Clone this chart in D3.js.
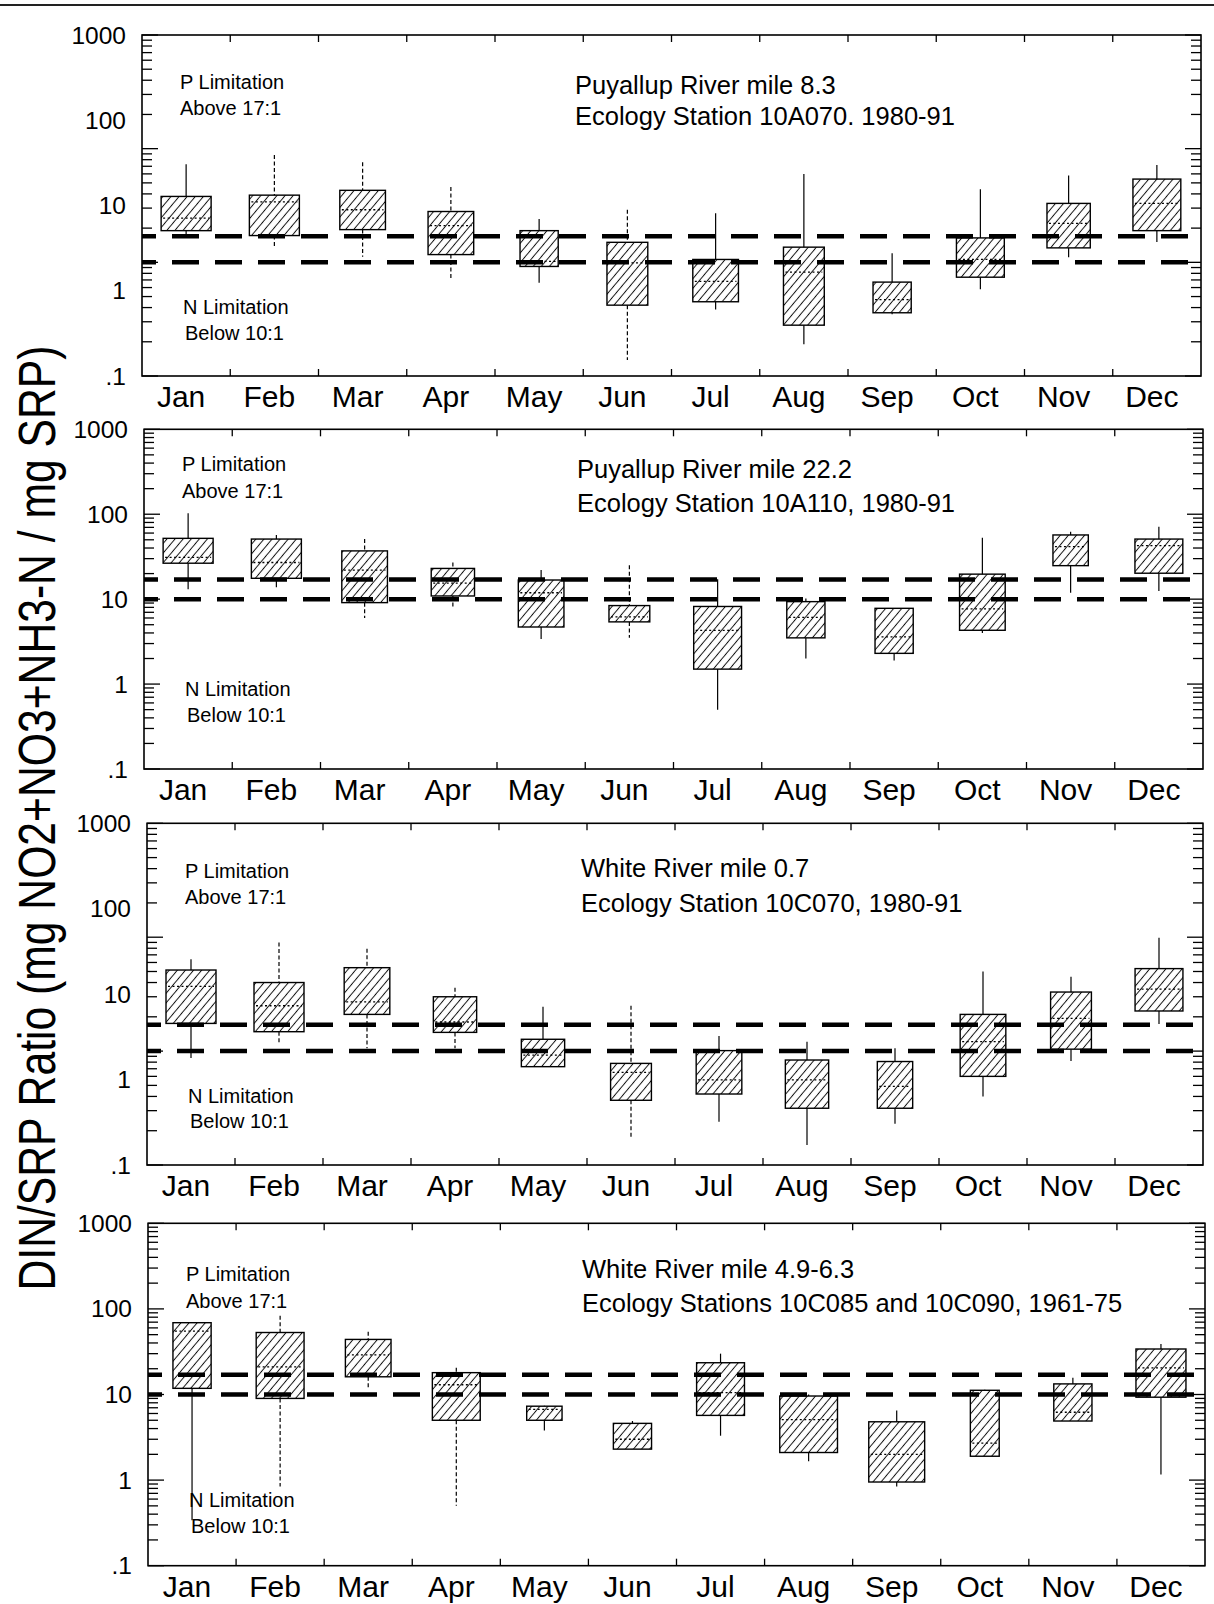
<!DOCTYPE html>
<html>
<head>
<meta charset="utf-8">
<script src="https://cdn.jsdelivr.net/npm/d3@7"></script>
<style>
  html, body { margin: 0; padding: 0; background: #fff; }
  svg { display: block; font-family: "Liberation Sans", Arial, Helvetica, sans-serif; }
</style>
</head>
<body>
<svg id="chart" width="1214" height="1604"></svg>
<script>
// ---- data -------------------------------------------------------------
const months = ["Jan", "Feb", "Mar", "Apr", "May", "Jun", "Jul", "Aug", "Sep", "Oct", "Nov", "Dec"];
const yTickLabels = ["1000", "100", "10", "1", ".1"];
const ratioP = 17;   // P limitation above 17:1
const ratioN = 10;   // N limitation below 10:1

// Puyallup River mile 8.3, station 10A070, 1980-91
const puy83Max = [73, 88, 76, 46, 24, 29, 27, 60, 12, 44, 58, 72];
const puy83Q3  = [38, 39, 43, 28, 19, 15, 10.6, 13.6, 6.7, 16.4, 33, 54];
const puy83Med = [24.5, 34, 29, 21, 10.2, 9.9, 6.8, 8.2, 4.7, 10.6, 22, 33];
const puy83Q1  = [19, 17.2, 19.4, 11.7, 9.2, 4.2, 4.5, 2.8, 3.6, 7.4, 13.4, 19];
const puy83Min = [17.5, 13.4, 11.2, 7.0, 6.6, 1.38, 3.85, 1.9, 3.5, 5.8, 11.1, 15.1];
const puy83N   = [12, 12, 10, 10, 7, 8, 10, 8, 7, 11, 9, 11];

// Puyallup River mile 22.2, station 10A110, 1980-91
const puy222Max = [103, 57, 51, 27, 22, 25, 17.2, 10.2, 7.8, 53, 62, 71];
const puy222Q3  = [52, 51, 37, 23, 16.8, 8.4, 8.2, 9.35, 7.8, 19.7, 57, 51];
const puy222Med = [31, 27, 22, 15.4, 11.9, 6.2, 4.3, 6.1, 3.6, 7.7, 41.5, 42.7];
const puy222Q1  = [26.5, 17.6, 9.1, 10.9, 4.7, 5.4, 1.5, 3.5, 2.3, 4.3, 24.8, 20.2];
const puy222Min = [13.1, 13.8, 6.0, 8.0, 3.4, 3.5, 0.5, 2.0, 1.9, 4.0, 11.9, 12.5];
const puy222N   = [12, 12, 10, 9, 10, 8, 11, 7, 7, 10, 6, 11];

// White River mile 0.7, station 10C070, 1980-91
const wr07Max = [64, 90, 79, 36, 24.5, 25, 13.6, 12.1, 10.6, 50, 45, 99];
const wr07Q3  = [51.5, 40, 54, 30, 12.7, 7.8, 10.1, 8.35, 8.1, 21, 33, 53];
const wr07Med = [37, 25, 27, 18, 9.2, 6.5, 5.6, 5.6, 4.9, 12.1, 19.4, 35];
const wr07Q1  = [17.5, 14.8, 21, 14.6, 7.3, 3.7, 4.2, 3.15, 3.15, 6.0, 10.4, 22.5];
const wr07Min = [8.7, 11.5, 10.6, 10.6, 7.3, 1.75, 2.4, 1.5, 2.3, 4.0, 8.2, 17.3];
const wr07N   = [12, 12, 10, 9, 9, 8, 10, 9, 6, 10, 8, 11];

// White River mile 4.9-6.3, stations 10C085 and 10C090, 1961-75
const wr49Max = [70, 83, 54, 20.5, 7.4, 4.9, 30, 10, 6.5, 11.4, 15.7, 39];
const wr49Q3  = [69, 53, 44, 18, 7.3, 4.6, 23.5, 9.6, 4.8, 11.2, 13.3, 34];
const wr49Med = [55, 21, 29, 13, 6.7, 3.0, 10.5, 5.1, 2.0, 2.7, 6.2, 20.5];
const wr49Q1  = [11.8, 9.0, 16.1, 5.0, 5.0, 2.3, 5.7, 2.1, 0.95, 1.9, 4.9, 9.3];
const wr49Min = [0.34, 0.84, 11.4, 0.5, 3.8, 2.3, 3.3, 1.66, 0.84, 1.9, 4.9, 1.16];
const wr49N   = [7, 11, 10, 11, 6, 7, 11, 16, 15, 4, 7, 12];

const panels = [
  { title: ["Puyallup River mile 8.3", "Ecology Station 10A070. 1980-91"],
    domain: [1, 1000], max: puy83Max, q3: puy83Q3, med: puy83Med, q1: puy83Q1, min: puy83Min, n: puy83N },
  { title: ["Puyallup River mile 22.2", "Ecology Station 10A110, 1980-91"],
    domain: [0.1, 1000], max: puy222Max, q3: puy222Q3, med: puy222Med, q1: puy222Q1, min: puy222Min, n: puy222N },
  { title: ["White River mile 0.7", "Ecology Station 10C070, 1980-91"],
    domain: [1, 1000], max: wr07Max, q3: wr07Q3, med: wr07Med, q1: wr07Q1, min: wr07Min, n: wr07N },
  { title: ["White River mile 4.9-6.3", "Ecology Stations 10C085 and 10C090, 1961-75"],
    domain: [0.1, 1000], max: wr49Max, q3: wr49Q3, med: wr49Med, q1: wr49Q1, min: wr49Min, n: wr49N }
];

// ---- layout -----------------------------------------------------------
const frames = [
  { left: 142, right: 1201, top: 35,    bottom: 376,    titleX: 575, titleY: [94, 125],    noteX: 180, noteP: [89, 115],    noteN: [314, 340],
    dashedWhiskers: ["Feb", "Mar", "Apr", "Jun"] },
  { left: 144, right: 1203, top: 429.3, bottom: 769,    titleX: 577, titleY: [478, 512],   noteX: 182, noteP: [471, 498],   noteN: [696, 722],
    dashedWhiskers: ["Mar", "Apr", "Jun"] },
  { left: 147, right: 1203, top: 823.3, bottom: 1165,   titleX: 581, titleY: [877, 912],   noteX: 185, noteP: [878, 904],   noteN: [1103, 1128],
    dashedWhiskers: ["Feb", "Mar", "Apr", "Jun"] },
  { left: 148, right: 1205, top: 1223.3, bottom: 1565.7, titleX: 582, titleY: [1278, 1312], noteX: 186, noteP: [1281, 1308], noteN: [1507, 1533],
    dashedWhiskers: ["Feb", "Mar", "Apr"] }
];

const svg = d3.select("#chart");
const defs = svg.append("defs");
defs.append("pattern")
  .attr("id", "hatch")
  .attr("patternUnits", "userSpaceOnUse")
  .attr("width", 6.2).attr("height", 6.2)
  .attr("patternTransform", "rotate(40)")
  .append("line")
  .attr("x1", 3.1).attr("y1", -1).attr("x2", 3.1).attr("y2", 7.2)
  .attr("stroke", "#111").attr("stroke-width", 1);

// page rule
svg.append("line").attr("x1", 0).attr("x2", 1214).attr("y1", 5).attr("y2", 5)
  .attr("stroke", "#222").attr("stroke-width", 2);

// shared y title
svg.append("text")
  .attr("transform", "translate(55,818) rotate(-90)")
  .attr("text-anchor", "middle")
  .attr("font-size", 51)
  .attr("textLength", 945)
  .attr("lengthAdjust", "spacingAndGlyphs")
  .text("DIN/SRP Ratio (mg NO2+NO3+NH3-N / mg SRP)");

// box width from sample size
const boxWidth = d3.scaleSqrt().domain([0, 12]).range([0, 50]);

panels.forEach((p, pi) => {
  const f = frames[pi];
  const g = svg.append("g");
  const x = d3.scaleBand().domain(months).range([f.left, f.right]);
  const y = d3.scaleLog().domain(p.domain).range([f.bottom, f.top]);
  const yLabel = d3.scaleLog().domain([0.1, 1000]).range([f.bottom, f.top]);
  const bw = x.bandwidth();

  // boxes
  months.forEach((m, i) => {
    const cx = x(m) + bw / 2;
    const w = boxWidth(p.n[i]);
    const dash = f.dashedWhiskers.includes(m) ? "4,2.5" : null;
    g.append("line").attr("x1", cx).attr("x2", cx)
      .attr("y1", y(p.max[i])).attr("y2", y(p.q3[i]))
      .attr("stroke", "#000").attr("stroke-width", 1.2)
      .attr("stroke-dasharray", dash);
    g.append("line").attr("x1", cx).attr("x2", cx)
      .attr("y1", y(p.q1[i])).attr("y2", y(p.min[i]))
      .attr("stroke", "#000").attr("stroke-width", 1.2)
      .attr("stroke-dasharray", dash);
    g.append("rect")
      .attr("x", cx - w / 2).attr("width", w)
      .attr("y", y(p.q3[i])).attr("height", y(p.q1[i]) - y(p.q3[i]))
      .attr("fill", "url(#hatch)")
      .attr("stroke", "#000").attr("stroke-width", 1.4);
    g.append("line")
      .attr("x1", cx - w / 2 + 2).attr("x2", cx + w / 2 - 2)
      .attr("y1", y(p.med[i])).attr("y2", y(p.med[i]))
      .attr("stroke", "#000").attr("stroke-width", 1.3)
      .attr("stroke-dasharray", "2,2.5");
  });

  // limitation thresholds
  [ratioP, ratioN].forEach(v => {
    g.append("line")
      .attr("x1", f.left).attr("x2", f.right)
      .attr("y1", y(v)).attr("y2", y(v))
      .attr("stroke", "#000").attr("stroke-width", 4.5)
      .attr("stroke-dasharray", "27,16").attr("stroke-dashoffset", 13);
  });

  // frame
  g.append("rect")
    .attr("x", f.left).attr("y", f.top)
    .attr("width", f.right - f.left).attr("height", f.bottom - f.top)
    .attr("fill", "none").attr("stroke", "#000").attr("stroke-width", 1.6);

  // log ticks on both sides
  y.ticks().forEach(v => {
    const major = Math.abs(Math.log10(v) - Math.round(Math.log10(v))) < 1e-6;
    const len = major ? 16 : 10;
    g.append("line").attr("x1", f.left).attr("x2", f.left + len)
      .attr("y1", y(v)).attr("y2", y(v)).attr("stroke", "#000").attr("stroke-width", 1.3);
    g.append("line").attr("x1", f.right).attr("x2", f.right - len)
      .attr("y1", y(v)).attr("y2", y(v)).attr("stroke", "#000").attr("stroke-width", 1.3);
  });

  // month boundary ticks
  months.slice(1).forEach(m => {
    g.append("line").attr("x1", x(m)).attr("x2", x(m))
      .attr("y1", f.top).attr("y2", f.top + 7).attr("stroke", "#000").attr("stroke-width", 1.3);
    g.append("line").attr("x1", x(m)).attr("x2", x(m))
      .attr("y1", f.bottom).attr("y2", f.bottom - 7).attr("stroke", "#000").attr("stroke-width", 1.3);
  });

  // y tick labels
  yTickLabels.forEach(t => {
    g.append("text")
      .attr("x", f.left - 16).attr("y", yLabel(+t))
      .attr("text-anchor", "end").attr("dominant-baseline", "central")
      .attr("font-size", 24.5)
      .text(t);
  });

  // month labels
  months.forEach(m => {
    g.append("text")
      .attr("x", x(m) + bw / 2 - 5).attr("y", f.bottom + 31)
      .attr("text-anchor", "middle").attr("font-size", 30)
      .text(m);
  });

  // station title
  p.title.forEach((t, k) => {
    g.append("text").attr("x", f.titleX).attr("y", f.titleY[k])
      .attr("font-size", 25.5).text(t);
  });

  // limitation notes
  g.append("text").attr("x", f.noteX).attr("y", f.noteP[0]).attr("font-size", 20).text("P Limitation");
  g.append("text").attr("x", f.noteX).attr("y", f.noteP[1]).attr("font-size", 20).text("Above 17:1");
  g.append("text").attr("x", f.noteX + 3).attr("y", f.noteN[0]).attr("font-size", 20).text("N Limitation");
  g.append("text").attr("x", f.noteX + 5).attr("y", f.noteN[1]).attr("font-size", 20).text("Below 10:1");
});
</script>
</body>
</html>
